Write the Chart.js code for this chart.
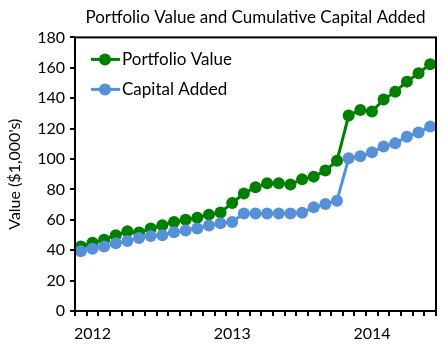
<!DOCTYPE html>
<html>
<head>
<meta charset="utf-8">
<script src="https://cdn.jsdelivr.net/npm/chart.js@4.4.0/dist/chart.umd.min.js"></script>
<style>
  body { margin: 0; background: #fff; }
  canvas { display: block; }
</style>
</head>
<body>
<canvas id="myChart" width="445" height="353"></canvas>
<script>
// months from Dec 2011 to Jun 2014
const months = [
    "2011-12",
    "2012-01", "2012-02", "2012-03", "2012-04", "2012-05", "2012-06",
    "2012-07", "2012-08", "2012-09", "2012-10", "2012-11", "2012-12",
    "2013-01", "2013-02", "2013-03", "2013-04", "2013-05", "2013-06",
    "2013-07", "2013-08", "2013-09", "2013-10", "2013-11", "2013-12",
    "2014-01", "2014-02", "2014-03", "2014-04", "2014-05", "2014-06",
];

const portfolioValue = [
    42.4, 44.9, 46.9, 49.9, 52.4, 51.6, 54.2, 56.4, 58.6, 60.1, 61.4, 63.4,
    64.8, 71.1, 77.3, 81.4, 84.0, 84.0, 83.2, 86.6, 88.4, 92.4, 98.9, 128.6,
    132.3, 131.2, 139.1, 144.3, 150.9, 156.4, 162.3,
];

const capitalAdded = [
    39.3, 40.9, 42.4, 44.5, 46.1, 48.1, 49.4, 49.8, 51.8, 52.9, 54.2, 56.2,
    57.7, 58.6, 64.1, 64.1, 64.1, 64.1, 64.1, 64.7, 68.2, 70.4, 72.6, 100.5,
    101.8, 104.4, 108.2, 110.3, 114.7, 117.4, 121.3,
];

const yTicks = [0, 20, 40, 60, 80, 100, 120, 140, 160, 180];

const fontFamily = "Lato";
const green = "#008000";
const blue = "#5590D9";

// box around plot + legend inside the plot area
const boxAndLegend = {
    id: "boxAndLegend",
    afterDraw(chart) {
        const ctx = chart.ctx;
        const area = chart.chartArea;
        ctx.save();
        ctx.strokeStyle = "#000";
        ctx.lineWidth = 2;
        ctx.strokeRect(area.left, area.top, area.right - area.left, area.bottom - area.top);

        let items = [
            { text: "Portfolio Value", color: green },
            { text: "Capital Added", color: blue },
        ];
        ctx.font = "17px " + fontFamily;
        ctx.textBaseline = "middle";
        items.forEach(function (item, i) {
            let y = area.top + 22 + i * 30;
            let x = area.left + 16;
            ctx.strokeStyle = item.color;
            ctx.lineWidth = 3;
            ctx.beginPath();
            ctx.moveTo(x, y);
            ctx.lineTo(x + 29, y);
            ctx.stroke();
            ctx.fillStyle = item.color;
            ctx.beginPath();
            ctx.arc(x + 14, y, 6, 0, Math.PI * 2);
            ctx.fill();
            ctx.fillStyle = "#000";
            ctx.fillText(item.text, x + 31, y);
        });
        ctx.restore();
    },
};

new Chart(document.getElementById("myChart"), {
    type: "line",
    data: {
        labels: months,
        datasets: [
            {
                label: "Portfolio Value",
                data: portfolioValue,
                borderColor: green,
                backgroundColor: green,
                borderWidth: 3,
                pointRadius: 6,
                pointBorderWidth: 0,
                tension: 0,
                order: 1,
            },
            {
                label: "Capital Added",
                data: capitalAdded,
                borderColor: blue,
                backgroundColor: blue,
                borderWidth: 3,
                pointRadius: 6,
                pointBorderWidth: 0,
                tension: 0,
                order: 0,
            },
        ],
    },
    options: {
        responsive: false,
        animation: false,
        layout: { padding: { left: 0, right: 9, top: 0, bottom: 0 } },
        plugins: {
            legend: { display: false },
            tooltip: { enabled: false },
            title: {
                display: true,
                fullSize: false,
                text: "Portfolio Value and Cumulative Capital Added",
                color: "#000",
                font: { family: fontFamily, size: 17, weight: "normal" },
                padding: { top: 7, bottom: 10 },
            },
        },
        scales: {
            x: {
                offset: true,
                border: { display: false },
                grid: {
                    offset: true,
                    drawOnChartArea: false,
                    drawTicks: true,
                    tickLength: 5,
                    color: "#000",
                    lineWidth: 2,
                },
                ticks: {
                    autoSkip: false,
                    maxRotation: 0,
                    padding: 8,
                    color: "#000",
                    font: { family: fontFamily, size: 16 },
                    callback: function (value, index) {
                        let m = months[index];
                        return m.endsWith("-01") ? m.slice(0, 4) : "";
                    },
                },
                afterFit: function (scale) {
                    scale.height = 42;
                },
            },
            y: {
                min: 0,
                max: 180,
                border: { display: false },
                grid: {
                    drawOnChartArea: false,
                    drawTicks: true,
                    tickLength: 5,
                    color: "#000",
                    lineWidth: 2,
                },
                afterBuildTicks: function (scale) {
                    scale.ticks = yTicks.map(function (v) { return { value: v }; });
                },
                ticks: {
                    padding: 5,
                    color: "#000",
                    font: { family: fontFamily, size: 16 },
                },
                title: {
                    display: true,
                    text: "Value ($1,000's)",
                    color: "#000",
                    font: { family: fontFamily, size: 16 },
                    padding: { top: 5, bottom: 0 },
                },
                afterFit: function (scale) {
                    scale.width = 75;
                },
            },
        },
    },
    plugins: [boxAndLegend],
});
</script>
</body>
</html>
